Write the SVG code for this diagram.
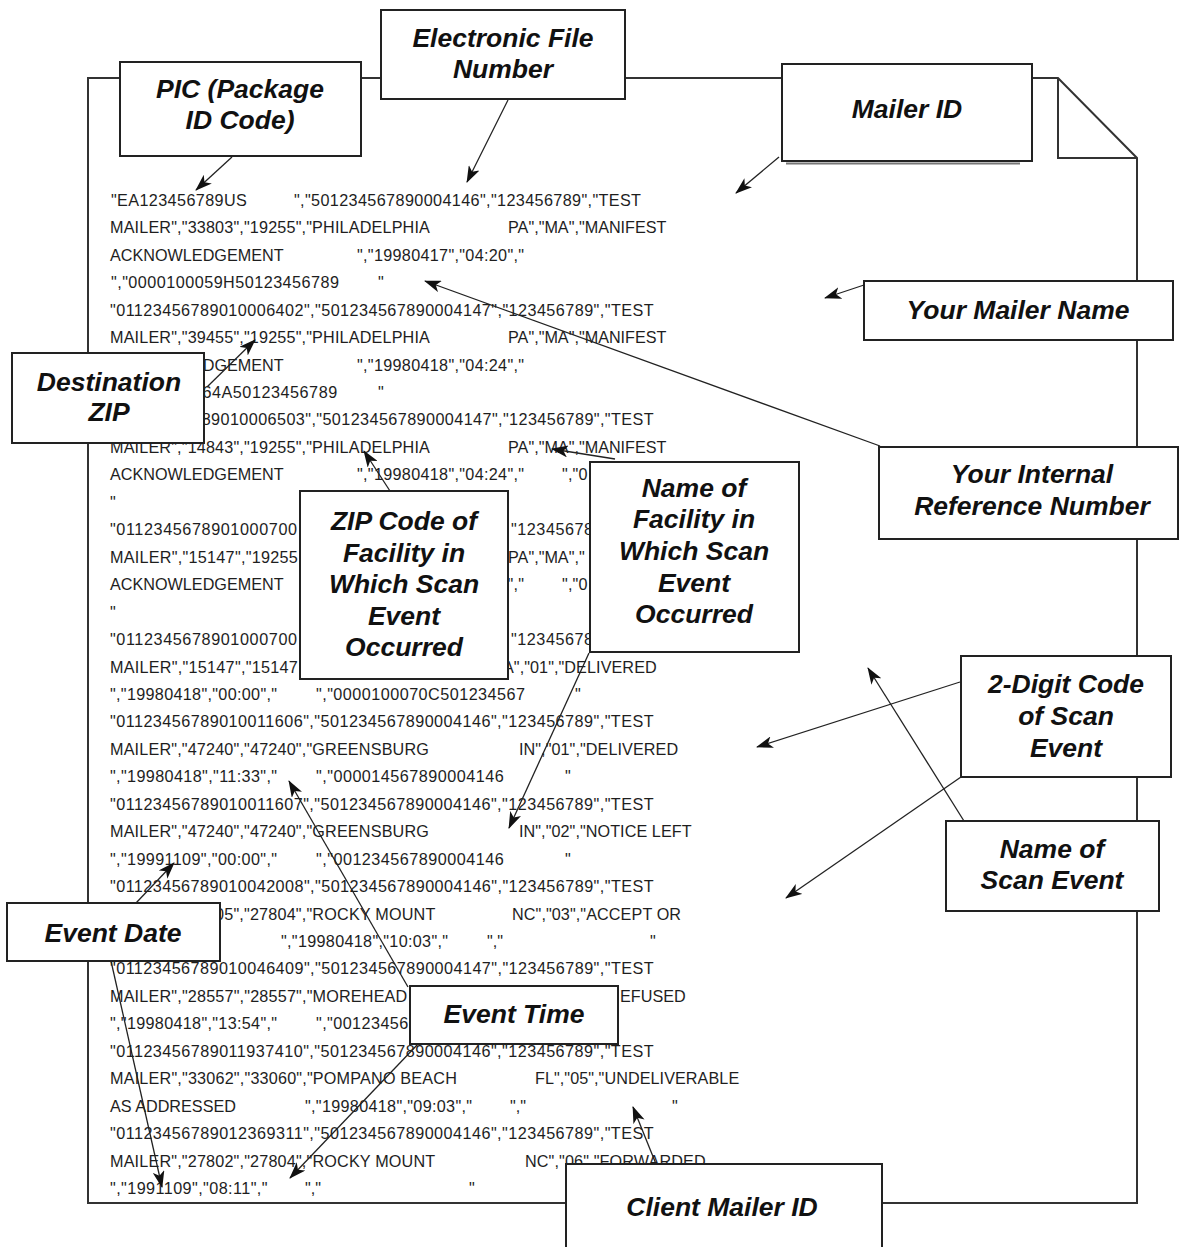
<svg xmlns="http://www.w3.org/2000/svg" width="1180" height="1247" viewBox="0 0 1180 1247">
<style>
.t{font-family:"Liberation Sans",Arial,sans-serif;font-size:16.2px;fill:#1e1e1e}
.l{font-family:"Liberation Sans",Arial,sans-serif;font-size:26.5px;font-weight:bold;font-style:italic;text-anchor:middle;fill:#111}
.b{fill:#fff;stroke:#222;stroke-width:2}
.c{stroke:#222;stroke-width:1.3;fill:none;marker-end:url(#ah)}
.pg{fill:none;stroke:#333;stroke-width:2;stroke-linejoin:miter}
</style>
<defs>
<marker id="ah" viewBox="0 0 17 12" refX="16" refY="6" markerWidth="17" markerHeight="12" markerUnits="userSpaceOnUse" orient="auto">
<path d="M0,0 L17,6 L0,12 L4.5,6 z" fill="#111"/>
</marker>
</defs>
<rect width="1180" height="1247" fill="#fff"/>
<g id="page">
<path class="pg" d="M88,1203 L88,78 L1058,78 L1137,158 L1137,1203 Z"/>
<path class="pg" d="M1058,78 L1058,158 L1137,158"/>
</g>
<g id="listing" class="t">
<text x="111" y="205.8" textLength="135.8" lengthAdjust="spacing">"EA123456789US</text>
<text x="294" y="205.8" textLength="347" lengthAdjust="spacing">","501234567890004146","123456789","TEST</text>
<text x="110" y="233.3" textLength="319.9" lengthAdjust="spacing">MAILER","33803","19255","PHILADELPHIA</text>
<text x="508" y="233.3">PA","MA","MANIFEST</text>
<text x="110" y="260.7">ACKNOWLEDGEMENT</text>
<text x="357" y="260.7" textLength="167" lengthAdjust="spacing">","19980417","04:20","</text>
<text x="111" y="288.2" textLength="228" lengthAdjust="spacing">","0000100059H50123456789</text>
<text x="378" y="288.2">"</text>
<text x="110" y="315.6" textLength="543.6" lengthAdjust="spacing">"01123456789010006402","501234567890004147","123456789","TEST</text>
<text x="110" y="343.1" textLength="319.9" lengthAdjust="spacing">MAILER","39455","19255","PHILADELPHIA</text>
<text x="508" y="343.1">PA","MA","MANIFEST</text>
<text x="202.7" y="370.5">DGEMENT</text>
<text x="357" y="370.5" textLength="167" lengthAdjust="spacing">","19980418","04:24","</text>
<text x="202.4" y="398" textLength="134.8" lengthAdjust="spacing">64A50123456789</text>
<text x="378" y="398">"</text>
<text x="201.7" y="425.4" textLength="451.9" lengthAdjust="spacing">89010006503","501234567890004147","123456789","TEST</text>
<text x="110" y="452.9" textLength="319.9" lengthAdjust="spacing">MAILER","14843","19255","PHILADELPHIA</text>
<text x="508" y="452.9">PA","MA","MANIFEST</text>
<text x="110" y="480.3">ACKNOWLEDGEMENT</text>
<text x="357" y="480.3" textLength="167" lengthAdjust="spacing">","19980418","04:24","</text>
<text x="562" y="480.3" textLength="25.5" lengthAdjust="spacing">","0</text>
<text x="110" y="507.8">"</text>
<text x="110" y="535.2" textLength="187" lengthAdjust="spacing">"0112345678901000700</text>
<text x="511" y="535.2" textLength="82.1" lengthAdjust="spacing">"12345678</text>
<text x="110" y="562.7" textLength="187.7" lengthAdjust="spacing">MAILER","15147","19255</text>
<text x="508" y="562.7">PA","MA","</text>
<text x="110" y="590.1">ACKNOWLEDGEMENT</text>
<text x="498.4" y="590.1" textLength="25.5" lengthAdjust="spacing">4","</text>
<text x="562" y="590.1" textLength="25.5" lengthAdjust="spacing">","0</text>
<text x="110" y="617.6">"</text>
<text x="110" y="645" textLength="187" lengthAdjust="spacing">"0112345678901000700</text>
<text x="511" y="645" textLength="82.1" lengthAdjust="spacing">"12345678</text>
<text x="110" y="672.5" textLength="187.7" lengthAdjust="spacing">MAILER","15147","15147</text>
<text x="503" y="672.5" textLength="153.7" lengthAdjust="spacing">A","01","DELIVERED</text>
<text x="110" y="699.9" textLength="167" lengthAdjust="spacing">","19980418","00:00","</text>
<text x="316" y="699.9" textLength="209" lengthAdjust="spacing">","0000100070C501234567</text>
<text x="575" y="699.9">"</text>
<text x="110" y="727.4" textLength="543.6" lengthAdjust="spacing">"01123456789010011606","501234567890004146","123456789","TEST</text>
<text x="110" y="754.8" textLength="318.9" lengthAdjust="spacing">MAILER","47240","47240","GREENSBURG</text>
<text x="519" y="754.8" textLength="159.1" lengthAdjust="spacing">IN","01","DELIVERED</text>
<text x="110" y="782.3" textLength="167" lengthAdjust="spacing">","19980418","11:33","</text>
<text x="316" y="782.3" textLength="187.7" lengthAdjust="spacing">","000014567890004146</text>
<text x="565" y="782.3">"</text>
<text x="110" y="809.7" textLength="543.6" lengthAdjust="spacing">"01123456789010011607","501234567890004146","123456789","TEST</text>
<text x="110" y="837.2" textLength="318.9" lengthAdjust="spacing">MAILER","47240","47240","GREENSBURG</text>
<text x="519" y="837.2" textLength="172.6" lengthAdjust="spacing">IN","02","NOTICE LEFT</text>
<text x="110" y="864.6" textLength="167" lengthAdjust="spacing">","19991109","00:00","</text>
<text x="316" y="864.6" textLength="187.7" lengthAdjust="spacing">","001234567890004146</text>
<text x="565" y="864.6">"</text>
<text x="110" y="892.1" textLength="543.6" lengthAdjust="spacing">"01123456789010042008","501234567890004146","123456789","TEST</text>
<text x="215" y="919.5" textLength="220.3" lengthAdjust="spacing">05","27804","ROCKY MOUNT</text>
<text x="512" y="919.5" textLength="169" lengthAdjust="spacing">NC","03","ACCEPT OR</text>
<text x="281" y="947" textLength="167" lengthAdjust="spacing">","19980418","10:03","</text>
<text x="487" y="947">","</text>
<text x="650" y="947">"</text>
<text x="110" y="974.4" textLength="543.6" lengthAdjust="spacing">"01123456789010046409","501234567890004147","123456789","TEST</text>
<text x="110" y="1001.9" textLength="297.3" lengthAdjust="spacing">MAILER","28557","28557","MOREHEAD</text>
<text x="620" y="1001.9">EFUSED</text>
<text x="110" y="1029.3" textLength="167" lengthAdjust="spacing">","19980418","13:54","</text>
<text x="316" y="1029.3" textLength="92.3" lengthAdjust="spacing">","00123456</text>
<text x="110" y="1056.8" textLength="543.6" lengthAdjust="spacing">"01123456789011937410","501234567890004146","123456789","TEST</text>
<text x="110" y="1084.2" textLength="346.9" lengthAdjust="spacing">MAILER","33062","33060","POMPANO BEACH</text>
<text x="535" y="1084.2" textLength="204.2" lengthAdjust="spacing">FL","05","UNDELIVERABLE</text>
<text x="110" y="1111.7">AS ADDRESSED</text>
<text x="305" y="1111.7" textLength="167" lengthAdjust="spacing">","19980418","09:03","</text>
<text x="510" y="1111.7">","</text>
<text x="672" y="1111.7">"</text>
<text x="110" y="1139.1" textLength="543.6" lengthAdjust="spacing">"01123456789012369311","501234567890004146","123456789","TEST</text>
<text x="110" y="1166.6" textLength="325.2" lengthAdjust="spacing">MAILER","27802","27804","ROCKY MOUNT</text>
<text x="525" y="1166.6" textLength="180.7" lengthAdjust="spacing">NC","06","FORWARDED</text>
<text x="110" y="1194" textLength="157.5" lengthAdjust="spacing">","1991109","08:11","</text>
<text x="305" y="1194">","</text>
<text x="469" y="1194">"</text>
</g>
<g id="node-efn">
<rect class="b" x="381" y="10" width="244" height="89"/>
<text class="l" x="503" y="47">Electronic File</text>
<text class="l" x="503" y="78">Number</text>
</g>
<g id="node-pic">
<rect class="b" x="120" y="62" width="241" height="94"/>
<text class="l" x="240" y="98">PIC (Package</text>
<text class="l" x="240" y="129">ID Code)</text>
</g>
<g id="node-mailer-id">
<line x1="786" y1="163.5" x2="1020" y2="163.5" stroke="#777" stroke-width="2"/>
<rect class="b" x="782" y="64" width="250" height="97"/>
<text class="l" x="907" y="118">Mailer ID</text>
</g>
<g id="node-mailer-name">
<rect class="b" x="864" y="281" width="309" height="59"/>
<text class="l" x="1018" y="319">Your Mailer Name</text>
</g>
<g id="node-internal-ref">
<rect class="b" x="879" y="447" width="299" height="92"/>
<text class="l" x="1032" y="483">Your Internal</text>
<text class="l" x="1032" y="515">Reference Number</text>
</g>
<g id="node-dest-zip">
<rect class="b" x="12" y="353" width="192" height="90"/>
<text class="l" x="109" y="391">Destination</text>
<text class="l" x="109" y="421">ZIP</text>
</g>
<g id="node-zip-facility">
<rect class="b" x="300" y="491" width="208" height="188"/>
<text class="l" x="404" y="530">ZIP Code of</text>
<text class="l" x="404" y="562">Facility in</text>
<text class="l" x="404" y="593">Which Scan</text>
<text class="l" x="404" y="625">Event</text>
<text class="l" x="404" y="656">Occurred</text>
</g>
<g id="node-name-facility">
<rect class="b" x="590" y="462" width="209" height="190"/>
<text class="l" x="694" y="497">Name of</text>
<text class="l" x="694" y="528">Facility in</text>
<text class="l" x="694" y="560">Which Scan</text>
<text class="l" x="694" y="592">Event</text>
<text class="l" x="694" y="623">Occurred</text>
</g>
<g id="node-2digit">
<rect class="b" x="961" y="656" width="210" height="121"/>
<text class="l" x="1066" y="693">2-Digit Code</text>
<text class="l" x="1066" y="725">of Scan</text>
<text class="l" x="1066" y="757">Event</text>
</g>
<g id="node-scan-name">
<rect class="b" x="946" y="821" width="213" height="90"/>
<text class="l" x="1052" y="858">Name of</text>
<text class="l" x="1052" y="889">Scan Event</text>
</g>
<g id="node-event-date">
<rect class="b" x="7" y="903" width="213" height="58"/>
<text class="l" x="113" y="942">Event Date</text>
</g>
<g id="node-event-time">
<rect class="b" x="410" y="986" width="208" height="58"/>
<text class="l" x="514" y="1023">Event Time</text>
</g>
<g id="node-client-mailer">
<rect class="b" x="566" y="1164" width="316" height="90"/>
<text class="l" x="722" y="1216">Client Mailer ID</text>
</g>
<g id="connectors">
<line class="c" x1="232" y1="157" x2="196" y2="190"/>
<line class="c" x1="508" y1="100" x2="467" y2="182"/>
<line class="c" x1="779" y1="157" x2="736" y2="193"/>
<line class="c" x1="864" y1="285" x2="825" y2="298"/>
<line class="c" x1="880" y1="446" x2="425" y2="281"/>
<line class="c" x1="207" y1="387" x2="255" y2="340"/>
<line class="c" x1="390" y1="491" x2="364" y2="451"/>
<line class="c" x1="615" y1="459" x2="552" y2="449"/>
<line class="c" x1="589" y1="653" x2="509" y2="828"/>
<line class="c" x1="960" y1="682" x2="757" y2="747"/>
<line class="c" x1="961" y1="777" x2="786" y2="898"/>
<line class="c" x1="964" y1="821" x2="868" y2="668"/>
<line class="c" x1="136" y1="903" x2="174" y2="863"/>
<line class="c" x1="111" y1="961" x2="162" y2="1187"/>
<line class="c" x1="408" y1="987" x2="289" y2="781"/>
<line class="c" x1="418" y1="1044" x2="290" y2="1178"/>
<line class="c" x1="656" y1="1164" x2="633" y2="1107"/>
</g>
</svg>
